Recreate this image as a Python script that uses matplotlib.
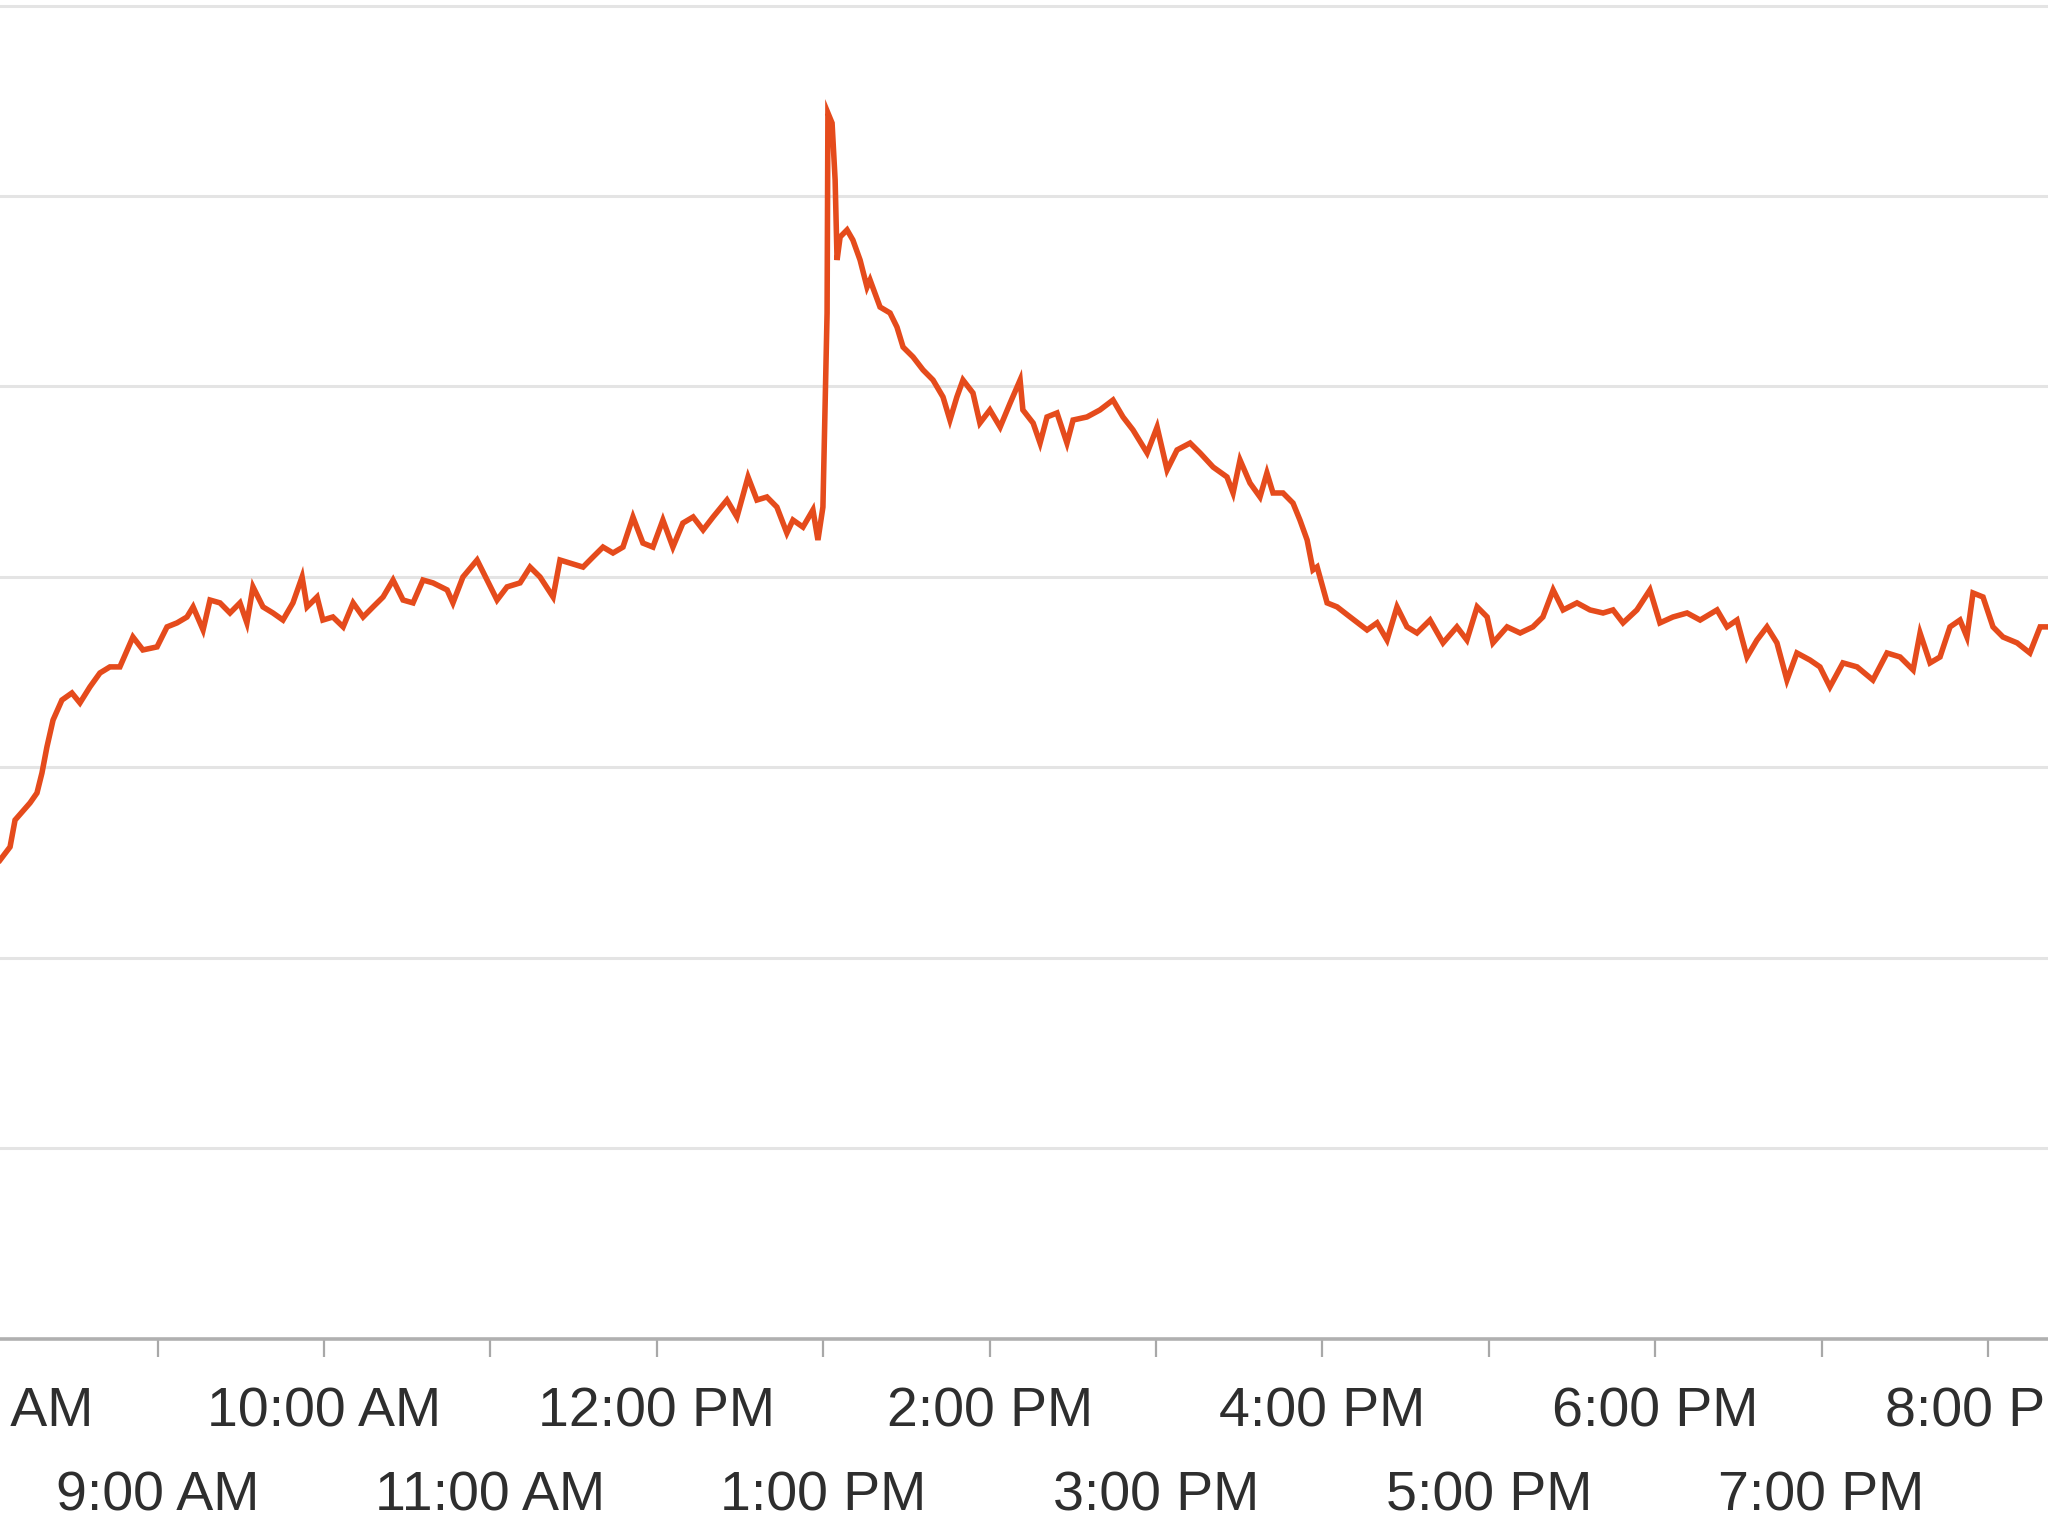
import matplotlib
matplotlib.use("Agg")
import matplotlib.pyplot as plt
from matplotlib import font_manager

# time in minutes after midnight, value (arbitrary units; gridlines every 100)
minutes = [483.2, 486.8, 488.6, 494.0, 496.5, 498.3, 500.1, 502.3, 505.5, 509.1, 512.0, 515.6, 519.2, 522.8, 526.4,
           531.1, 534.7, 539.8, 543.4, 547.0, 550.6, 552.8, 556.4, 558.9, 562.5, 566.1, 569.7, 572.2, 574.4, 578.0,
           581.6, 585.2, 588.8, 592.1, 593.9, 597.5, 599.6, 603.2, 606.9, 610.5, 614.1, 617.7, 621.3, 624.9, 628.5,
           632.1, 635.7, 639.3, 644.4, 646.5, 650.1, 655.2, 658.8, 662.4, 666.0, 670.7, 674.3, 677.9, 682.6, 685.1,
           688.7, 693.4, 697.0, 700.6, 704.2, 707.8, 711.4, 715.0, 718.6, 722.2, 725.8, 729.4, 733.1, 736.7, 740.3,
           745.3, 748.9, 752.9, 756.1, 759.7, 763.3, 766.9, 769.1, 772.7, 776.3, 778.1, 779.9, 781.4, 781.7, 783.2,
           784.3, 785.0, 786.1, 788.6, 790.7, 793.3, 795.8, 796.9, 800.5, 804.1, 806.6, 808.8, 812.4, 816.0, 819.6,
           823.2, 825.7, 828.2, 830.4, 834.0, 836.5, 840.1, 843.8, 847.4, 851.0, 852.0, 855.7, 858.2, 860.7, 864.3,
           867.9, 870.1, 875.1, 879.8, 884.5, 888.1, 891.7, 896.8, 900.4, 904.0, 907.6, 912.3, 915.9, 920.6, 925.6,
           927.8, 930.3, 933.9, 937.5, 940.0, 942.2, 945.8, 949.4, 951.9, 954.5, 956.6, 958.1, 961.7, 965.3, 970.0,
           976.1, 979.7, 983.3, 986.9, 990.5, 994.1, 998.8, 1003.5, 1008.5, 1012.1, 1015.8, 1019.4, 1021.5, 1026.6,
           1031.3, 1035.9, 1039.5, 1043.2, 1046.8, 1051.8, 1056.5, 1061.2, 1064.8, 1068.4, 1073.4, 1078.1, 1081.7,
           1086.4, 1091.5, 1096.2, 1102.3, 1105.9, 1109.5, 1113.1, 1116.7, 1120.3, 1123.9, 1127.5, 1131.1, 1135.8,
           1139.4, 1143.0, 1147.7, 1152.8, 1158.5, 1163.6, 1168.3, 1173.0, 1175.5, 1179.1, 1182.7, 1186.3, 1189.9,
           1192.4, 1194.6, 1198.2, 1201.8, 1205.4, 1210.5, 1215.1, 1218.8, 1221.6]

values = [251.4, 258.3, 272.4, 281.4, 286.6, 297.1, 310.8, 324.9, 335.4, 339.1, 333.9, 342.3, 349.6, 352.8, 352.8,
          368.5, 361.7, 363.3, 373.8, 375.9, 379.0, 384.3, 372.2, 387.9, 386.4, 381.1, 386.4, 375.9, 394.8, 384.3,
          381.1, 377.4, 386.4, 400.0, 384.3, 389.5, 377.4, 379.0, 373.8, 386.4, 379.0, 384.3, 389.5, 398.4, 387.9,
          386.4, 398.4, 396.9, 393.2, 386.4, 400.0, 408.9, 398.4, 387.9, 394.8, 396.9, 405.2, 400.0, 389.5, 408.9,
          407.3, 405.2, 410.5, 415.7, 412.6, 415.7, 431.5, 417.8, 415.7, 429.9, 415.7, 428.3, 431.5, 424.7, 431.5,
          440.4, 431.5, 452.5, 440.4, 442.0, 436.7, 423.1, 429.9, 426.2, 435.2, 419.4, 436.7, 538.6, 643.6, 638.3,
          608.4, 566.4, 578.5, 582.2, 576.9, 566.4, 552.2, 555.9, 541.7, 538.6, 531.2, 520.7, 515.5, 508.7, 503.4,
          494.5, 482.4, 494.5, 503.4, 496.6, 480.8, 487.7, 478.7, 491.3, 503.4, 487.7, 480.8, 470.3, 484.0, 486.1,
          470.3, 482.4, 484.0, 487.7, 492.9, 484.0, 477.2, 465.1, 478.7, 456.2, 466.7, 470.3, 465.1, 457.7, 452.5,
          444.1, 461.4, 449.3, 442.0, 454.6, 444.1, 444.1, 438.8, 429.9, 419.4, 403.7, 405.3, 386.4, 384.3, 379.0,
          372.2, 375.9, 366.9, 384.3, 373.8, 370.6, 377.4, 365.4, 373.8, 366.9, 384.3, 379.0, 365.4, 373.8,
          370.6, 373.8, 379.0, 393.2, 382.7, 386.4, 382.7, 381.1, 382.7, 375.9, 382.7, 393.2, 375.9,
          379.0, 381.1, 377.4, 382.7, 373.8, 377.4, 358.0, 366.9, 373.8, 365.4, 345.9, 360.1, 356.4,
          352.8, 342.3, 354.9, 352.8, 345.9, 360.1, 358.0, 351.2, 370.6, 354.9, 358.0, 373.8, 377.4,
          368.5, 391.6, 389.5, 373.8, 368.5, 365.4, 360.1, 373.8, 373.8]

major_ticks = [480, 600, 720, 840, 960, 1080, 1200]
major_labels = ["8:00 AM", "10:00 AM", "12:00 PM", "2:00 PM", "4:00 PM", "6:00 PM", "8:00 PM"]
minor_ticks = [540, 660, 780, 900, 1020, 1140]
minor_labels = ["9:00 AM", "11:00 AM", "1:00 PM", "3:00 PM", "5:00 PM", "7:00 PM"]
grid_levels = [100, 200, 300, 400, 500, 600, 700]

n = min(len(minutes), len(values))
minutes = minutes[:n]
values = values[:n]

# Narrow font gives the tall, condensed look of the reference labels
names = {f.name for f in font_manager.fontManager.ttflist}
if 'Liberation Sans Narrow' in names:
    label_family = 'Liberation Sans Narrow'
    label_size = 48
    pad_major, pad_minor = 17, 76
else:
    label_family = 'Liberation Sans'
    label_size = 40
    pad_major, pad_minor = 21, 82

plt.rcParams['font.family'] = [label_family, 'Liberation Sans', 'DejaVu Sans']

fig = plt.figure(figsize=(20.48, 15.36), dpi=100)
fig.patch.set_facecolor('white')
ax = fig.add_axes([-0.05, 0.1283, 1.1, 0.8717])
ax.set_facecolor('white')

ax.plot(minutes, values, color='#e54b1c', linewidth=4.0, solid_joinstyle='miter', zorder=3)

ax.set_xlim(446.25, 1258.56)
ax.set_ylim(0, 702.9)

ax.set_yticks(grid_levels)
ax.yaxis.grid(True, color='#e4e4e4', linewidth=2.2)
ax.tick_params(axis='y', left=False, labelleft=False)

ax.set_xticks(major_ticks)
ax.set_xticklabels(major_labels)
ax.set_xticks(minor_ticks, minor=True)
ax.set_xticklabels(minor_labels, minor=True)
ax.tick_params(axis='x', which='both', direction='out', length=13, width=1.6, color='#a8a8a8',
               labelsize=label_size, labelcolor='#2e2e2e')
ax.tick_params(axis='x', which='major', pad=pad_major)
ax.tick_params(axis='x', which='minor', pad=pad_minor)

for side in ['top', 'left', 'right']:
    ax.spines[side].set_visible(False)
ax.spines['bottom'].set_color('#b0b0b0')
ax.spines['bottom'].set_linewidth(2.6)

fig.savefig('out.png', dpi=100, facecolor='white')
